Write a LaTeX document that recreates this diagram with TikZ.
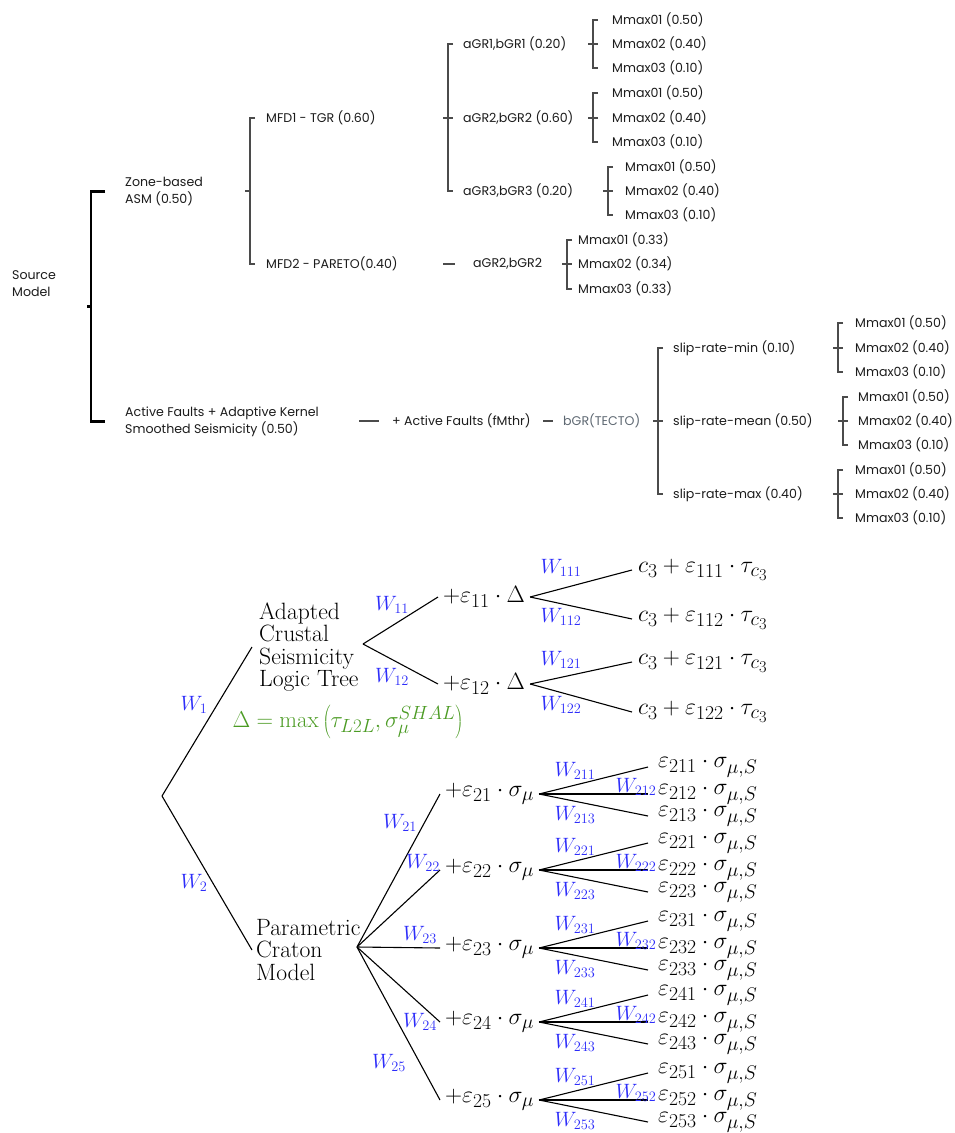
\documentclass[tikz,border=0pt]{standalone}
\usepackage{fontspec}
\usetikzlibrary{calc}
\newfontfamily\topfont{Poppins}
\definecolor{wblue}{RGB}{45,45,250}
\definecolor{dgreen}{RGB}{75,155,35}
\definecolor{txt}{RGB}{28,28,28}
\definecolor{ln}{RGB}{75,75,75}
\definecolor{tecto}{RGB}{95,105,115}
\newcommand\threebr[5][brk]{%
  \draw[#1] ([xshift=-#5pt+5pt]#2.west) -- ([xshift=-#5pt]#2.west) -- ([xshift=-#5pt]#4.west) -- ([xshift=-#5pt+5pt]#4.west);
  \draw[#1] ([xshift=-#5pt-5pt]#3.west) -- ([xshift=-#5pt+5pt]#3.west);}
\newcommand\sm[1]{\scalebox{0.95}{#1}}
\begin{document}
\begin{tikzpicture}[x=1pt,y=-1pt,
  top/.style={font=\topfont\fontsize{12.6}{17}\selectfont, text=txt, anchor=west, inner sep=0pt, align=left},
  brk/.style={draw=ln, line width=1.1pt},
  thk/.style={draw=black, line width=2.6pt, line join=miter},
  bt/.style={font=\fontsize{23.6}{22.5}\selectfont, anchor=west, inner sep=0pt, align=left},
  bm/.style={font=\fontsize{24.88}{22.5}\selectfont, anchor=west, inner sep=0pt},
  mid/.style={bm, inner xsep=5pt},
  leafc/.style={bm, inner xsep=6pt},
  leafe/.style={bm, inner xsep=10pt},
  wl/.style={text=wblue, font=\fontsize{20.74}{20}\selectfont, inner sep=0pt},
  edge/.style={draw=black, line width=1.1pt}]
\useasboundingbox[fill=white] (0,0) rectangle (955,1133);

% ---------------- top tree ----------------
\node[top] (src) at (12,283.5) {Source\\Model};
\node[top] (zone) at (125,191.5) {Zone-based\\ASM (0.50)};
\node[top] (af) at (125,421.5) {Active Faults + Adaptive Kernel\\Smoothed Seismicity (0.50)};
\node[top] (mfd1) at (266,118) {MFD1 - TGR (0.60)};
\node[top] (mfd2) at (266,264) {MFD2 - PARETO(0.40)};
\node[top] (a1) at (463,44) {aGR1,bGR1 (0.20)};
\node[top] (a2) at (463,118) {aGR2,bGR2 (0.60)};
\node[top] (a3) at (463,191) {aGR3,bGR3 (0.20)};
\node[top] (a4) at (473,264) {aGR2,bGR2};
\node[top] (afm) at (392,421) {+ Active Faults (fMthr)};
\node[top, text=tecto] (bgr) at (563,421) {bGR(TECTO)};
\node[top] (s1) at (673,348) {slip-rate-min (0.10)};
\node[top] (s2) at (673,421) {slip-rate-mean (0.50)};
\node[top] (s3) at (673,494) {slip-rate-max (0.40)};
\foreach \g/\x/\ya/\yb/\yc/\wa/\wb/\wc in {
  1/612/20/44/68/0.50/0.40/0.10,
  2/612/93/118/142/0.50/0.40/0.10,
  3/625/167/191/215/0.50/0.40/0.10,
  4/578/240/264/289/0.33/0.34/0.33,
  5/855/323/348/372/0.50/0.40/0.10,
  6/858/397/421/445/0.50/0.40/0.10,
  7/855/470/494/518/0.50/0.40/0.10}{
  \node[top] (m\g1) at (\x,\ya) {Mmax01 (\wa)};
  \node[top] (m\g2) at (\x,\yb) {Mmax02 (\wb)};
  \node[top] (m\g3) at (\x,\yc) {Mmax03 (\wc)};
}
% source bracket (thick)
\draw[thk] ([xshift=-20pt]zone.west) -- ([xshift=-34pt]zone.west) -- ([xshift=-34pt]af.west) -- ([xshift=-20pt]af.west);
\draw[thk] ($(zone.west)!.5!(af.west)+(-38,0)$) -- ($(zone.west)!.5!(af.west)+(-34,0)$);
% zone bracket
\draw[brk] ([xshift=-11pt]mfd1.west) -- ([xshift=-16pt]mfd1.west) -- ([xshift=-16pt]mfd2.west) -- ([xshift=-11pt]mfd2.west);
\draw[brk] ($(mfd1.west)!.5!(mfd2.west)+(-21,0)$) -- ($(mfd1.west)!.5!(mfd2.west)+(-16,0)$);
% MFD1 bracket
\threebr{a1}{a2}{a3}{15}
% MFD2 dash
\draw[brk] ([xshift=-30pt]a4.west) -- ([xshift=-18pt]a4.west);
% Mmax brackets
\threebr{m11}{m12}{m13}{19}
\threebr{m21}{m22}{m23}{19}
\threebr{m31}{m32}{m33}{17}
\threebr{m41}{m42}{m43}{11}
\threebr{m51}{m52}{m53}{17}
\threebr{m61}{m62}{m63}{15}
\threebr{m71}{m72}{m73}{17}
% active faults chain
\draw[brk] ([xshift=-33pt]afm.west) -- ([xshift=-13pt]afm.west);
\draw[brk] ([xshift=-20pt]bgr.west) -- ([xshift=-10pt]bgr.west);
\threebr{s1}{s2}{s3}{15}

% ---------------- bottom tree ----------------
\coordinate (root) at (162,796);
\node[bt] (acs) at (259,647) {Adapted\\Crustal\\Seismicity\\Logic Tree};
\node[bt] (pcm) at (256,950) {Parametric\\Craton\\Model};
\coordinate (acsR) at (363,644);
\coordinate (pcmR) at (357,947);
\draw[edge] (root) -- ([xshift=-7pt]acs.west);
\draw[edge] (root) -- ([xshift=-4pt]pcm.west);
\node[wl] (w1) at (194,705) {$W_1$};
\node[wl] (w2) at (194,883) {$W_2$};

\node[mid] (e11) at (438,597) {\sm{$+\varepsilon_{11}\cdot\Delta$}};
\node[mid] (e12) at (438,684) {\sm{$+\varepsilon_{12}\cdot\Delta$}};
\draw[edge] (acsR) -- (e11.west);
\draw[edge] (acsR) -- (e12.west);
\node[wl] (w11) at (392,605) {$W_{11}$};
\node[wl] (w12) at (392,677) {$W_{12}$};

\node[leafc] (c111) at (632,570) {\sm{$c_3+\varepsilon_{111}\cdot\tau_{c_3}$}};
\node[leafc] (c112) at (632,619) {\sm{$c_3+\varepsilon_{112}\cdot\tau_{c_3}$}};
\node[leafc] (c121) at (632,662) {\sm{$c_3+\varepsilon_{121}\cdot\tau_{c_3}$}};
\node[leafc] (c122) at (632,712) {\sm{$c_3+\varepsilon_{122}\cdot\tau_{c_3}$}};
\draw[edge] (e11.east) -- (c111.west);
\draw[edge] (e11.east) -- (c112.west);
\draw[edge] (e12.east) -- (c121.west);
\draw[edge] (e12.east) -- (c122.west);
\node[wl] (w111) at (561,568) {$W_{111}$};
\node[wl] (w112) at (561,617) {$W_{112}$};
\node[wl] (w121) at (561,660) {$W_{121}$};
\node[wl] (w122) at (561,705) {$W_{122}$};

\node[text=dgreen, font=\fontsize{24.88}{24}\selectfont, inner sep=0pt] (delta) at (348,722)
  {\scalebox{0.92}{$\Delta=\max\left(\tau_{L2L},\sigma_\mu^{SHAL}\right)$}};

\foreach \k/\P in {1/794,2/870,3/948,4/1022,5/1100}{
  \node[mid] (e2\k) at (440,\P) {\sm{$+\varepsilon_{2\k}\cdot\sigma_\mu$}};
  \draw[edge] (pcmR) -- (e2\k.west);
  \foreach \j/\dy in {1/-27,2/0,3/22}{
    \node[leafe] (l2\k\j) at (648,{\P+(\dy)}) {\sm{$\varepsilon_{2\k\j}\cdot\sigma_{\mu,S}$}};
    \draw[edge] (e2\k.east) -- (l2\k\j.west);
  }
  \node[wl] (w2\k1) at (575,{\P-23}) {$W_{2\k1}$};
  \node[wl] (w2\k2) at (636,{\P-7}) {$W_{2\k2}$};
  \node[wl] (w2\k3) at (575,{\P+21}) {$W_{2\k3}$};
}
\node[wl] (w21) at (400,823) {$W_{21}$};
\node[wl] (w22) at (423,863) {$W_{22}$};
\node[wl] (w23) at (420,935) {$W_{23}$};
\node[wl] (w24) at (420,1022) {$W_{24}$};
\node[wl] (w25) at (389,1063) {$W_{25}$};
\end{tikzpicture}
\end{document}
